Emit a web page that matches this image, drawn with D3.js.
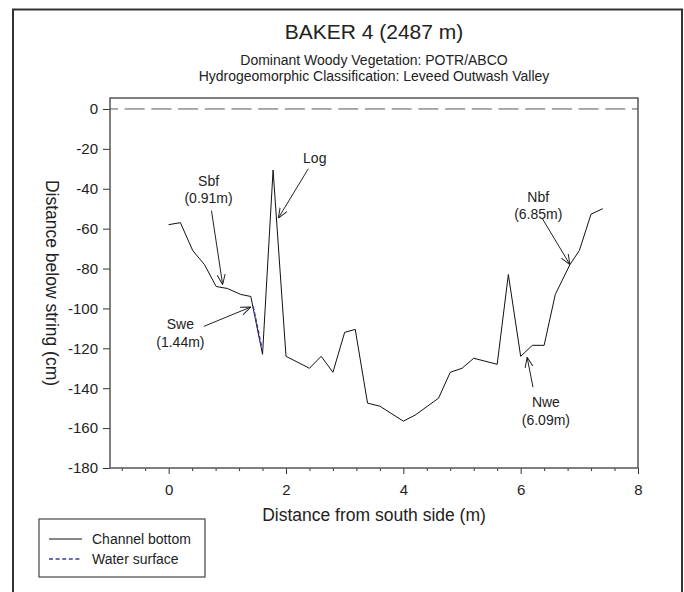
<!DOCTYPE html>
<html>
<head>
<meta charset="utf-8">
<script src="https://cdn.jsdelivr.net/npm/d3@7"></script>
<style>
  body { margin: 0; background: #fff; }
  svg text { font-family: Arial, "Liberation Sans", sans-serif; fill: #222; }
</style>
</head>
<body>
<div id="chart"></div>
<script>
// channel bottom profile (m from south side, cm below string)
var bottomX = [0, 0.2, 0.41, 0.61, 0.81, 1.0, 1.23, 1.4, 1.6, 1.78, 2.0, 2.4, 2.6, 2.8, 3.0, 3.18, 3.39, 3.6, 4.0, 4.2, 4.6, 4.8, 5.0, 5.2, 5.6, 5.79, 6.0, 6.2, 6.4, 6.59, 6.84, 7.0, 7.2, 7.4];
var bottomY = [-58, -57, -71, -78, -89, -90, -93, -94, -123, -30.6, -124, -130, -124, -132, -112, -110.5, -147.5, -149, -156.5, -153.5, -145, -132, -130, -125, -128, -83, -124, -118.5, -118.5, -93, -78, -71, -52.7, -50];

// water surface
var waterX = [1.44, 1.59];
var waterY = [-99, -120];

// string reference line
var stringX = [-1, 8];
var stringY = [0, 0];

var yTicks = [0, -20, -40, -60, -80, -100, -120, -140, -160, -180];
var xTicks = [0, 2, 4, 6, 8];
var xMinor = [-0.8, -0.4, 0.4, 0.8, 1.2, 1.6, 2.4, 2.8, 3.2, 3.6, 4.4, 4.8, 5.2, 5.6, 6.4, 6.8, 7.2, 7.6];

// annotations: label lines, label anchor, arrow tail, arrow head (data units)
var noteText = [["Sbf", "(0.91m)"], ["Log"], ["Swe", "(1.44m)"], ["Nbf", "(6.85m)"], ["Nwe", "(6.09m)"]];
var noteAt = [[0.68, -36], [2.49, -24.6], [0.2, -108], [6.3, -44], [6.43, -147]];
var noteFrom = [[0.73, -51], [2.38, -30], [0.6, -109], [6.37, -55], [6.21, -139.5]];
var noteTo = [[0.92, -88], [1.87, -54.7], [1.4, -99.3], [6.84, -78], [6.11, -124.5]];

var W = 684, H = 592;
var plot = { left: 110, right: 638, top: 98, bottom: 468 };
var cx = (plot.left + plot.right) / 2;

var svg = d3.select("#chart").append("svg")
    .attr("width", W)
    .attr("height", H);

// outer border
svg.append("rect")
    .attr("x", 13).attr("y", 9.5)
    .attr("width", 669).attr("height", 600)
    .attr("fill", "none")
    .attr("stroke", "#333")
    .attr("stroke-width", 2);

// titles
svg.append("text").attr("x", cx).attr("y", 39)
    .attr("text-anchor", "middle").style("font-size", "21px")
    .text("BAKER 4 (2487 m)");
svg.append("text").attr("x", cx).attr("y", 65)
    .attr("text-anchor", "middle").style("font-size", "14px")
    .text("Dominant Woody Vegetation: POTR/ABCO");
svg.append("text").attr("x", cx).attr("y", 81)
    .attr("text-anchor", "middle").style("font-size", "14px")
    .text("Hydrogeomorphic Classification: Leveed Outwash Valley");

var x = d3.scaleLinear().domain([-1, 8]).range([plot.left, plot.right]);
var y = d3.scaleLinear().domain([-180, 5.5]).range([plot.bottom, plot.top]);

// axes (plain hyphen for negatives)
var yAxis = d3.axisLeft(y).tickValues(yTicks).tickSize(7).tickPadding(5).tickFormat((d) => String(d));
var gy = svg.append("g").attr("transform", "translate(" + plot.left + ",0)").call(yAxis);
gy.select(".domain").remove();
gy.selectAll("text").style("font-size", "15px");

var xAxis = d3.axisBottom(x).tickValues(xTicks).tickSize(6).tickPadding(10).tickFormat((d) => String(d));
var gx = svg.append("g").attr("transform", "translate(0," + plot.bottom + ")").call(xAxis);
gx.select(".domain").remove();
gx.selectAll("text").style("font-size", "15px");

var gm = svg.append("g").attr("transform", "translate(0," + plot.bottom + ")")
    .call(d3.axisBottom(x).tickValues(xMinor).tickSize(3).tickFormat(""));
gm.select(".domain").remove();

svg.selectAll(".tick line").attr("stroke", "#333");

// frame
svg.append("rect")
    .attr("x", plot.left).attr("y", plot.top)
    .attr("width", plot.right - plot.left).attr("height", plot.bottom - plot.top)
    .attr("fill", "none").attr("stroke", "#555").attr("stroke-width", 1.5);

// axis titles
svg.append("text")
    .attr("transform", "translate(46," + ((plot.top + plot.bottom) / 2) + ") rotate(90)")
    .attr("text-anchor", "middle").style("font-size", "17.5px")
    .text("Distance below string (cm)");
svg.append("text")
    .attr("x", cx).attr("y", 521)
    .attr("text-anchor", "middle").style("font-size", "17.5px")
    .text("Distance from south side (m)");

var line = d3.line().x((d) => x(d[0])).y((d) => y(d[1]));

svg.append("path")
    .datum(d3.zip(stringX, stringY))
    .attr("d", line)
    .attr("fill", "none").attr("stroke", "#555").attr("stroke-width", 1)
    .attr("stroke-dasharray", "20,6.7")
    .attr("stroke-dashoffset", 12);

svg.append("path")
    .datum(d3.zip(bottomX, bottomY))
    .attr("d", line)
    .attr("fill", "none").attr("stroke", "#111").attr("stroke-width", 1);

svg.append("path")
    .datum(d3.zip(waterX, waterY))
    .attr("d", line)
    .attr("fill", "none").attr("stroke", "#3a3aa0").attr("stroke-width", 1.5)
    .attr("stroke-dasharray", "4,2");

// annotations with open arrowheads
svg.append("defs").append("marker")
    .attr("id", "arrow")
    .attr("viewBox", "0 0 10 10")
    .attr("refX", 10).attr("refY", 5)
    .attr("markerWidth", 10).attr("markerHeight", 10)
    .attr("markerUnits", "userSpaceOnUse")
    .attr("orient", "auto")
    .append("path")
    .attr("d", "M0,1 L10,5 L0,9")
    .attr("fill", "none").attr("stroke", "#222").attr("stroke-width", 1);

noteText.forEach(function (lines, i) {
    var t = svg.append("text")
        .attr("x", x(noteAt[i][0])).attr("y", y(noteAt[i][1]))
        .attr("text-anchor", "middle").style("font-size", "14px");
    lines.forEach(function (s, k) {
        t.append("tspan").attr("x", x(noteAt[i][0])).attr("dy", k == 0 ? "0.35em" : "1.25em").text(s);
    });
    svg.append("line")
        .attr("x1", x(noteFrom[i][0])).attr("y1", y(noteFrom[i][1]))
        .attr("x2", x(noteTo[i][0])).attr("y2", y(noteTo[i][1]))
        .attr("stroke", "#222").attr("stroke-width", 1)
        .attr("marker-end", "url(#arrow)");
});

// legend
var leg = svg.append("g");
leg.append("rect")
    .attr("x", 39).attr("y", 519).attr("width", 166).attr("height", 58)
    .attr("fill", "#fff").attr("stroke", "#444").attr("stroke-width", 1.2);
var legNames = ["Channel bottom", "Water surface"];
var legColor = ["#111", "#3a3aa0"];
var legDash = [null, "4,2.6"];
legNames.forEach(function (name, i) {
    var ly = 539 + i * 20;
    leg.append("line").attr("x1", 49).attr("x2", 82).attr("y1", ly).attr("y2", ly)
        .attr("stroke", legColor[i]).attr("stroke-width", i ? 1.5 : 1)
        .attr("stroke-dasharray", legDash[i]);
    leg.append("text").attr("x", 92).attr("y", ly).attr("dy", "0.35em")
        .style("font-size", "14px").text(name);
});
</script>
</body>
</html>
